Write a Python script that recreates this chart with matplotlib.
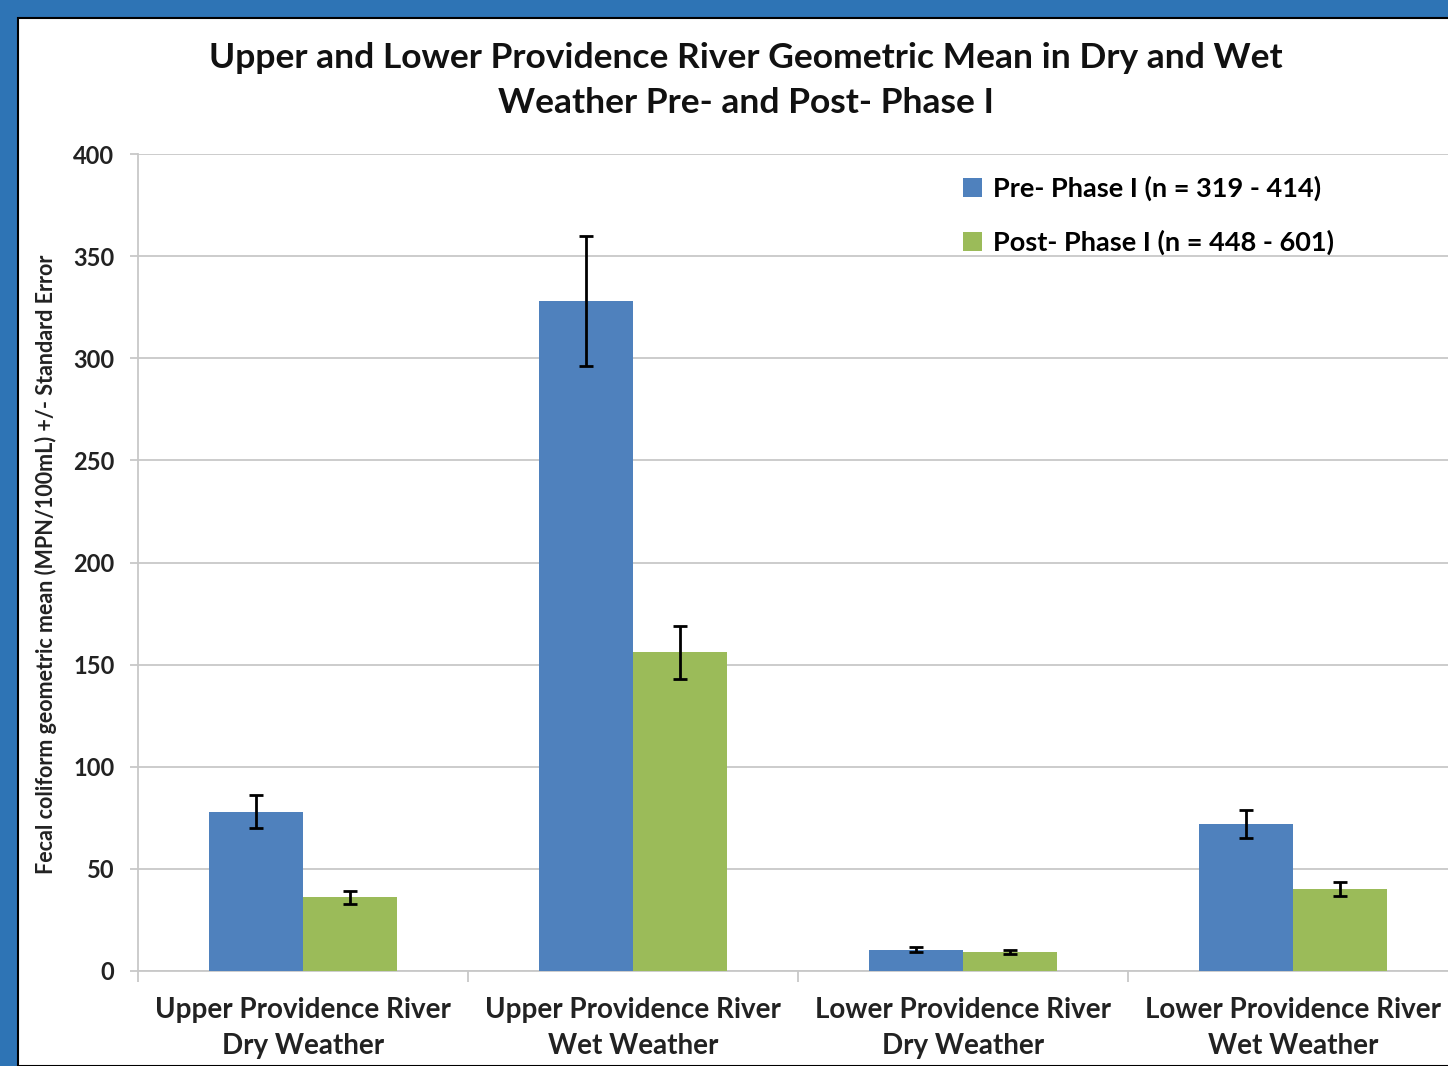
import matplotlib.pyplot as plt
import matplotlib.patches as mpatches
import numpy as np

categories = ["Upper Providence River\nDry Weather", "Upper Providence River\nWet Weather",
              "Lower Providence River\nDry Weather", "Lower Providence River\nWet Weather"]
pre_vals = [78, 328, 10.5, 72]
pre_err = [8, 32, 1.2, 7]
post_vals = [36, 156, 9.5, 40]
post_err = [3, 13, 1.0, 3.5]
series_labels = ["Pre- Phase I (n = 319 - 414)", "Post- Phase I (n = 448 - 601)"]
yticks = [0, 50, 100, 150, 200, 250, 300, 350, 400]

blue = '#4F81BD'
green = '#9BBB59'
frame = '#2E74B5'
font = 'Lato'

W, H = 1448, 1066
fig = plt.figure(figsize=(W / 100, H / 100), dpi=100)
fig.patch.set_facecolor(frame)

# white panel inside the blue frame (kept behind the axes)
panel = mpatches.Rectangle((18 / W, 0), 1, 1 - 18 / H, transform=fig.transFigure,
                           facecolor='white', edgecolor='black', linewidth=1.5, zorder=-10)
fig.patches.append(panel)

ax = fig.add_axes([138 / W, (H - 971) / H, 1320 / W, (971 - 154) / H])
ax.set_facecolor('none')

x = np.arange(len(categories)) + 0.5
bw = 0.285
err_kw = dict(ecolor='black', elinewidth=2, capsize=5, capthick=2)
ax.bar(x - bw / 2, pre_vals, bw, yerr=pre_err, color=blue, label=series_labels[0],
       error_kw=err_kw, zorder=3)
ax.bar(x + bw / 2, post_vals, bw, yerr=post_err, color=green, label=series_labels[1],
       error_kw=err_kw, zorder=3)

ax.set_xlim(0, 4)
ax.set_ylim(0, 400)
ax.set_yticks(yticks)
ax.yaxis.grid(True, color='#c8c8c8', linewidth=1.3, zorder=0)
ax.set_axisbelow(True)

for s in ['top', 'right']:
    ax.spines[s].set_visible(False)
ax.spines['left'].set_color('#c8c8c8')
ax.spines['bottom'].set_color('#c8c8c8')
ax.spines['left'].set_linewidth(1.3)
ax.spines['bottom'].set_linewidth(1.3)

ax.set_xticks([0, 1, 2, 3, 4])
ax.set_xticklabels([])
ax.set_xticks(x, minor=True)
ax.set_xticklabels(categories, minor=True, fontsize=20, fontweight='bold',
                   family=font, color='#222222', linespacing=1.45)
ax.tick_params(axis='x', which='minor', length=0, pad=19)
ax.tick_params(axis='x', which='major', length=8, color='#c8c8c8', width=1.3)
ax.tick_params(axis='y', length=6, color='#c8c8c8', width=1.3, pad=11)
for lab in ax.get_yticklabels():
    lab.set_fontsize(17)
    lab.set_fontweight('bold')
    lab.set_family(font)
    lab.set_color('#222222')

ax.set_ylabel("Fecal coliform geometric mean (MPN/100mL) +/- Standard Error",
              fontsize=15.5, fontweight='bold', family=font, color='#222222')
ax.yaxis.set_label_coords(-0.0614, 0.498)

fig.suptitle("Upper and Lower Providence River Geometric Mean in Dry and Wet\n"
             "Weather Pre- and Post- Phase I",
             x=0.515, y=0.961, fontsize=25.5, fontweight='bold', family=font,
             color='#111111', linespacing=1.5)

leg = ax.legend(loc='upper left', bbox_to_anchor=(0.615, 0.99), frameon=False,
                prop={'family': font, 'weight': 'bold', 'size': 19.5}, borderpad=0,
                handlelength=0.7, handleheight=0.7, handletextpad=0.4, labelspacing=1.05)

fig.savefig("out.png", dpi=100, facecolor=fig.get_facecolor())
